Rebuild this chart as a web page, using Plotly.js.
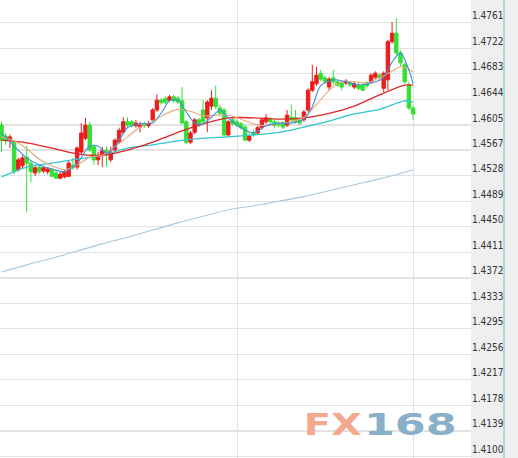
<!DOCTYPE html>
<html>
<head>
<meta charset="utf-8">
<script src="https://cdn.plot.ly/plotly-3.0.1.min.js"></script>
<style>html,body{margin:0;padding:0;background:#fff;}#chart{width:518px;height:458px;}</style>
</head>
<body>
<div id="chart"></div>
<script>
// ---- tick labels (price axis) ----
const tickLabels = ['1.4761','1.4722','1.4683','1.4644','1.4605','1.4567','1.4528','1.4489','1.4450',
  '1.4411','1.4372','1.4333','1.4295','1.4256','1.4217','1.4178','1.4139','1.4100'];

// ---- candles (index 0..98) ----
const openP = [1.4605,1.4588,1.4582,1.4579,1.4537,1.4543,1.4556,1.4547,1.4532,1.4541,
  1.4535,1.4534,1.4537,1.4532,1.4524,1.4526,1.4527,1.4544,1.4541,1.4564,
  1.4585,1.4605,1.4572,1.4552,1.4559,1.4567,1.4552,1.4567,1.4579,1.4594,
  1.4610,1.4610,1.4604,1.4602,1.4607,1.4604,1.4613,1.4628,1.4643,1.4645,
  1.4643,1.4648,1.4646,1.4642,1.4610,1.4579,1.4594,1.4613,1.4628,1.4616,
  1.4634,1.4646,1.4631,1.4628,1.4590,1.4613,1.4610,1.4607,1.4602,1.4582,
  1.4594,1.4593,1.4601,1.4610,1.4614,1.4610,1.4608,1.4608,1.4605,1.4617,
  1.4616,1.4613,1.4613,1.4628,1.4658,1.4668,1.4684,1.4677,1.4663,1.4677,
  1.4671,1.4669,1.4669,1.4669,1.4663,1.4666,1.4665,1.4669,1.4671,1.4678,
  1.4681,1.4661,1.4674,1.4732,1.4745,1.4715,1.4697,1.4666,1.4631];
const closeP = [1.4582,1.4581,1.4587,1.4534,1.4552,1.4555,1.4547,1.4534,1.4540,1.4534,
  1.4540,1.4538,1.4527,1.4524,1.4530,1.4534,1.4547,1.4540,1.4570,1.4593,
  1.4605,1.4567,1.4552,1.4559,1.4566,1.4562,1.4564,1.4582,1.4597,1.4610,
  1.4605,1.4604,1.4608,1.4605,1.4604,1.4608,1.4628,1.4643,1.4639,1.4640,
  1.4648,1.4642,1.4640,1.4608,1.4579,1.4593,1.4613,1.4605,1.4610,1.4640,
  1.4646,1.4633,1.4623,1.4590,1.4610,1.4607,1.4605,1.4601,1.4582,1.4588,
  1.4590,1.4601,1.4613,1.4616,1.4610,1.4604,1.4605,1.4602,1.4620,1.4613,
  1.4610,1.4608,1.4625,1.4658,1.4671,1.4681,1.4675,1.4671,1.4675,1.4671,
  1.4666,1.4663,1.4672,1.4666,1.4668,1.4661,1.4658,1.4665,1.4681,1.4684,
  1.4677,1.4684,1.4732,1.4745,1.4715,1.4700,1.4671,1.4631,1.4622];
const highP = [1.4610,1.4593,1.4591,1.4582,1.4555,1.4559,1.4573,1.4552,1.4544,1.4544,
  1.4543,1.4541,1.4540,1.4535,1.4534,1.4537,1.4552,1.4555,1.4573,1.4608,
  1.4616,1.4610,1.4575,1.4564,1.4572,1.4573,1.4572,1.4585,1.4601,1.4617,
  1.4617,1.4613,1.4613,1.4610,1.4610,1.4611,1.4631,1.4652,1.4646,1.4649,
  1.4651,1.4651,1.4649,1.4663,1.4613,1.4596,1.4616,1.4616,1.4643,1.4643,
  1.4658,1.4665,1.4636,1.4631,1.4613,1.4616,1.4613,1.4610,1.4605,1.4591,
  1.4598,1.4604,1.4616,1.4622,1.4617,1.4613,1.4611,1.4611,1.4628,1.4636,
  1.4628,1.4616,1.4628,1.4661,1.4697,1.4694,1.4689,1.4680,1.4678,1.4689,
  1.4674,1.4672,1.4675,1.4672,1.4671,1.4669,1.4668,1.4672,1.4684,1.4687,
  1.4684,1.4687,1.4735,1.4762,1.4768,1.4719,1.4700,1.4671,1.4634];
const lowP = [1.4564,1.4575,1.4570,1.4530,1.4534,1.4538,1.4472,1.4518,1.4527,1.4530,
  1.4532,1.4530,1.4526,1.4523,1.4523,1.4524,1.4526,1.4537,1.4537,1.4561,
  1.4582,1.4564,1.4544,1.4544,1.4541,1.4541,1.4549,1.4564,1.4576,1.4591,
  1.4602,1.4601,1.4601,1.4594,1.4601,1.4601,1.4610,1.4625,1.4636,1.4637,
  1.4640,1.4639,1.4637,1.4607,1.4576,1.4576,1.4591,1.4602,1.4607,1.4594,
  1.4628,1.4629,1.4620,1.4587,1.4587,1.4604,1.4602,1.4598,1.4581,1.4579,
  1.4587,1.4590,1.4598,1.4607,1.4607,1.4601,1.4602,1.4599,1.4602,1.4610,
  1.4607,1.4605,1.4610,1.4625,1.4655,1.4665,1.4672,1.4668,1.4658,1.4666,
  1.4663,1.4658,1.4666,1.4663,1.4660,1.4658,1.4657,1.4661,1.4668,1.4675,
  1.4674,1.4655,1.4658,1.4729,1.4712,1.4695,1.4668,1.4628,1.4613];

// ---- moving averages (at the listed candle indices) ----
const ma5Idx = [0,3,6,9,12,15,18,21,23,25,27,30,33,36,38,40,42,44,46,48,50,52,54,57,60,63,66,69,72,74,76,79,82,85,88,91,93,95,97,98];
const ma5Val = [1.4593,1.4573,1.4555,1.4544,1.4538,1.4534,1.4547,1.4573,1.4573,1.4562,1.4572,1.4601,1.4607,1.4608,1.4623,1.4642,1.4643,1.4625,1.4608,1.4607,
  1.4617,1.4628,1.4616,1.4601,1.4593,1.4604,1.4608,1.4608,1.4614,1.4633,1.4665,1.4674,1.4671,1.4666,1.4669,1.4677,1.4701,1.4715,1.4689,1.4668];
const ma10Idx = [0,3,6,9,12,15,18,21,24,27,30,33,36,39,42,45,48,51,54,57,60,63,66,69,72,75,78,81,84,87,90,93,95,97,98];
const ma10Val = [1.4587,1.4581,1.4569,1.4553,1.4543,1.4537,1.4544,1.4556,1.4559,1.4572,1.4587,1.4602,1.4611,1.4622,1.4629,1.4626,1.4619,1.4620,1.4620,1.4614,
  1.4607,1.4604,1.4607,1.4610,1.4617,1.4636,1.4658,1.4671,1.4671,1.4669,1.4677,1.4687,1.4694,1.4690,1.4686];
const slowIdx = [0,6,12,18,24,30,36,42,48,54,60,66,72,78,84,90,96,98];
const ma20Val = [1.4582,1.4578,1.4570,1.4561,1.4559,1.4567,1.4579,1.4594,1.4607,1.4616,1.4616,1.4614,1.4616,1.4623,1.4634,1.4651,1.4666,1.4666];
const ma60Val = [1.4526,1.4541,1.4547,1.4553,1.4559,1.4570,1.4575,1.4581,1.4585,1.4587,1.4590,1.4594,1.4602,1.4611,1.4622,1.4629,1.4642,1.4640];
const ma120Val = [1.4381,1.4392,1.4402,1.4413,1.4424,1.4434,1.4445,1.4456,1.4466,1.4476,1.4482,1.4489,1.4496,1.4505,1.4514,1.4523,1.4533,1.4537];

const dayBreaks = [56.3, 98];

const candleX = openP.map((_, i) => i);
const tickVals = tickLabels.map(Number);

function maLine(xs, ys, color, w) {
  return {type:'scatter', mode:'lines', x:xs, y:ys, hoverinfo:'skip',
    line:{color:color, width:w, shape:'spline', smoothing:0.8}};
}

const traces = [
  maLine(slowIdx, ma120Val, '#a8c8de', 1.1),
  {type:'candlestick', x:candleX, open:openP, high:highP, low:lowP, close:closeP,
   increasing:{line:{color:'#ee1c1c', width:1}, fillcolor:'#ee1c1c'},
   decreasing:{line:{color:'#33e033', width:1}, fillcolor:'#33e033'},
   whiskerwidth:0, hoverinfo:'skip'},
  maLine(slowIdx, ma60Val, '#33c4cc', 1.3),
  maLine(slowIdx, ma20Val, '#e02424', 1.3),
  maLine(ma10Idx, ma10Val, '#e8a87a', 1.1),
  maLine(ma5Idx, ma5Val, '#3d8fe0', 1.1)
];

const plotW = 471, plotH = 458;
// watermark parts: [text, centre px, colour, horizontal stretch]
const wm = [['FX',332.5,'#f2a98e',1.33],['168',410,'#8aafc8',1.48]];

const layout = {
  width:518, height:458,
  margin:{l:0, r:47, t:0, b:0, pad:0},
  paper_bgcolor:'#efefef', plot_bgcolor:'#ffffff',
  showlegend:false, hovermode:false,
  boxgap:0.1, boxgroupgap:0.1,
  xaxis:{range:[-0.357, 111.79], showticklabels:false, tickvals:dayBreaks, ticks:'',
    showgrid:true, gridcolor:'#e2e2e2', gridwidth:1, zeroline:false, showline:false,
    rangeslider:{visible:false}, fixedrange:true},
  yaxis:{side:'right', range:[1.40977, 1.47956], tickvals:tickVals, ticktext:tickLabels,
    ticks:'', showgrid:true, gridcolor:'#e2e2e2', gridwidth:1.2, zeroline:false, showline:false,
    ticklabelposition:'outside top',
    tickfont:{family:'"DejaVu Sans Condensed", "Liberation Sans", sans-serif', size:10, color:'#333333'},
    fixedrange:true},
  shapes:[{type:'line', xref:'paper', yref:'paper', x0:504/plotW, x1:504/plotW, y0:0, y1:1,
    line:{color:'#66c8cc', width:1}}],
  annotations: wm.map(([txt, px, col]) => ({
    text:txt, xref:'paper', yref:'paper', x:px/plotW, y:1-424.5/plotH,
    xanchor:'center', yanchor:'middle', showarrow:false,
    font:{family:'"DejaVu Sans", sans-serif', size:30, weight:'bold', color:col}
  }))
};

Plotly.newPlot('chart', traces, layout, {displayModeBar:false, staticPlot:true}).then(() => {
  const texts = document.querySelectorAll('#chart .annotation-text');
  texts.forEach((t, k) => {
    if (!wm[k]) return;
    t.style.transformBox = 'fill-box';
    t.style.transformOrigin = 'center';
    t.style.transform = 'scaleX(' + wm[k][3] + ')';
  });
});
</script>
</body>
</html>
